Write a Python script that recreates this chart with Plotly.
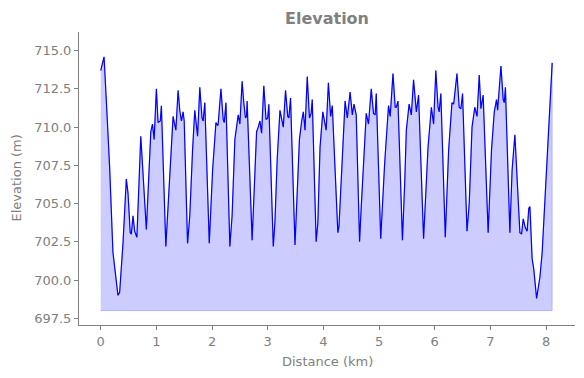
import plotly.graph_objects as go

distance_km = [0.00, 0.06, 0.10, 0.16, 0.22, 0.25, 0.31, 0.34, 0.40, 0.46, 0.49, 0.53, 0.55, 0.58, 0.61, 0.65,
               0.72, 0.82, 0.90, 0.93, 0.96, 1.00, 1.03, 1.07, 1.09, 1.17, 1.26, 1.30, 1.35, 1.39, 1.42, 1.45,
               1.48, 1.50, 1.56, 1.60, 1.65, 1.69, 1.74, 1.78, 1.82, 1.84, 1.87, 1.95, 2.01, 2.07, 2.10, 2.11,
               2.16, 2.20, 2.22, 2.25, 2.32, 2.36, 2.41, 2.44, 2.47, 2.50, 2.54, 2.57, 2.60, 2.62, 2.63, 2.72,
               2.77, 2.80, 2.83, 2.86, 2.89, 2.93, 2.97, 3.00, 3.02, 3.10, 3.13, 3.17, 3.22, 3.28, 3.32, 3.36,
               3.38, 3.41, 3.49, 3.57, 3.61, 3.64, 3.67, 3.71, 3.75, 3.78, 3.80, 3.87, 3.90, 3.94, 3.99, 4.05,
               4.09, 4.13, 4.16, 4.26, 4.28, 4.34, 4.39, 4.43, 4.48, 4.52, 4.55, 4.59, 4.65, 4.68, 4.72, 4.77,
               4.81, 4.86, 4.90, 4.93, 4.95, 5.03, 5.10, 5.17, 5.20, 5.25, 5.29, 5.31, 5.34, 5.42, 5.46, 5.49,
               5.54, 5.58, 5.62, 5.67, 5.71, 5.80, 5.88, 5.94, 5.98, 6.02, 6.06, 6.08, 6.11, 6.19, 6.25, 6.31,
               6.34, 6.40, 6.44, 6.47, 6.50, 6.58, 6.62, 6.67, 6.72, 6.76, 6.80, 6.83, 6.87, 6.96, 7.02, 7.07,
               7.11, 7.13, 7.19, 7.23, 7.25, 7.27, 7.35, 7.39, 7.44, 7.48, 7.53, 7.56, 7.59, 7.63, 7.66, 7.69,
               7.71, 7.75, 7.78, 7.83, 7.89, 7.93, 8.01, 8.11]

elevation_m = [713.7, 714.6, 711.8, 707.4, 701.8, 700.9, 699.0, 699.2, 702.4, 706.6, 705.7, 703.1, 703.0, 704.2, 703.2, 702.8,
               709.4, 703.3, 709.7, 710.2, 709.2, 712.5, 710.3, 710.4, 711.4, 702.2, 708.5, 710.7, 709.8, 712.4, 711.1, 710.4,
               711.0, 710.4, 702.4, 704.2, 708.5, 711.1, 709.4, 712.6, 710.6, 710.4, 711.6, 702.4, 707.2, 710.3, 710.1, 710.2,
               712.5, 710.5, 710.3, 711.6, 702.2, 704.2, 709.2, 710.2, 710.8, 710.2, 713.0, 711.6, 710.6, 710.7, 711.7, 702.6,
               707.2, 709.7, 710.0, 710.4, 709.6, 712.7, 710.5, 710.6, 711.5, 702.2, 703.8, 707.9, 711.1, 710.0, 712.4, 710.7,
               710.6, 711.9, 702.3, 709.2, 710.4, 711.0, 709.8, 713.3, 710.6, 710.9, 711.8, 702.5, 703.7, 708.7, 711.0, 709.8,
               712.9, 710.7, 711.4, 703.1, 703.5, 708.3, 711.7, 710.6, 712.3, 710.8, 711.5, 710.8, 702.5, 704.8, 707.9, 710.9,
               710.2, 712.5, 710.9, 710.8, 712.2, 702.7, 707.6, 711.4, 710.7, 713.5, 711.3, 711.3, 711.7, 702.6, 706.3, 709.8,
               711.5, 710.8, 713.1, 711.0, 712.1, 702.7, 708.7, 711.3, 710.2, 713.7, 711.3, 711.0, 712.2, 702.8, 708.5, 711.6,
               711.5, 713.5, 711.3, 711.2, 712.2, 703.2, 705.0, 710.0, 711.3, 710.7, 713.4, 711.2, 712.1, 703.1, 708.5, 711.0,
               711.8, 711.1, 714.0, 711.8, 711.6, 712.6, 703.1, 707.2, 709.5, 706.3, 703.1, 703.0, 704.0, 703.4, 703.2, 704.7,
               704.8, 701.4, 700.7, 698.8, 700.2, 701.8, 707.2, 714.2]

fill_base = 698.0
y_ticks = [697.5, 700.0, 702.5, 705.0, 707.5, 710.0, 712.5, 715.0]
x_ticks = [0, 1, 2, 3, 4, 5, 6, 7, 8]

gray = "#808080"
font = "DejaVu Sans"

# page body has an 8px margin, so the figure is drawn 8px in from the window corner
OFF = 8
W, H = 584 - OFF, 378 - OFF
ML, MR, MT, MB = 79 - OFF, 9, 32 - OFF, 53
plot_w = W - ML - MR
plot_h = H - MT - MB

fig = go.Figure()
fig.add_trace(go.Scatter(
    x=distance_km + [distance_km[-1], distance_km[0]],
    y=elevation_m + [fill_base, fill_base],
    fill="toself", fillcolor="rgba(0,0,255,0.2)",
    line=dict(color="rgba(0,0,255,0.2)", width=1),
    mode="lines", hoverinfo="skip", showlegend=False))
fig.add_trace(go.Scatter(
    x=distance_km, y=elevation_m, mode="lines",
    line=dict(color="#0000ff", width=1.2), showlegend=False))

fig.update_layout(
    width=W, height=H,
    margin=dict(l=ML, r=MR, t=MT, b=MB, autoexpand=False),
    paper_bgcolor="white", plot_bgcolor="white",
    font=dict(family=font, size=13, color=gray),
    title=dict(text="<b>Elevation</b>", x=0.5, xref="paper", y=1 - (18 - OFF) / H, yref="container",
               xanchor="center", yanchor="middle", font=dict(size=16, color=gray, family=font)),
    xaxis=dict(range=[-0.39, 8.52], tickvals=x_ticks, ticks="outside", ticklen=4, tickcolor=gray,
               showline=True, linecolor=gray, linewidth=1, showgrid=False, zeroline=False, automargin=False),
    yaxis=dict(range=[697.06, 716.22], tickvals=y_ticks, tickformat=".1f", ticks="outside", ticklen=4,
               tickcolor=gray, showline=True, linecolor=gray, linewidth=1, showgrid=False, zeroline=False,
               automargin=False),
    annotations=[
        dict(text="Distance (km)", x=0.5, xref="paper", y=-(361 - 325) / plot_h, yref="paper",
             xanchor="center", yanchor="middle", showarrow=False, font=dict(size=13, color=gray)),
        dict(text="Elevation (m)", x=(16 - 79) / plot_w, xref="paper", y=0.5, yref="paper",
             xanchor="center", yanchor="middle", showarrow=False, textangle=-90,
             font=dict(size=13, color=gray)),
    ],
)

fig.write_html("out.html")
